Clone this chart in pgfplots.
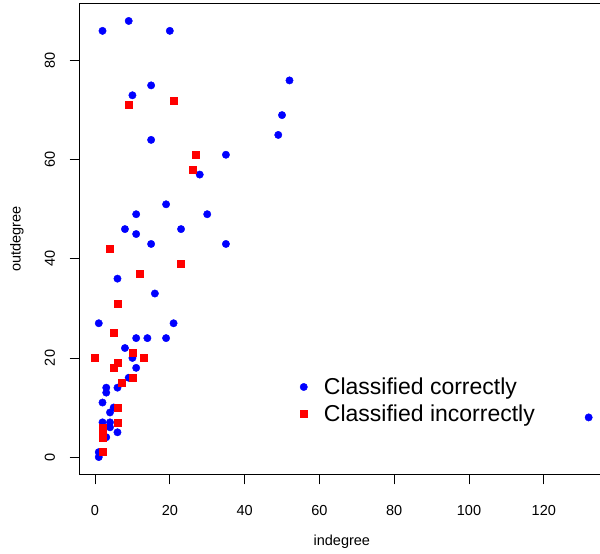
\documentclass[border=0pt]{standalone}
\usepackage{fontspec}
\setmainfont{Liberation Sans}
\usepackage{pgfplots}
\pgfplotsset{compat=1.18}
\definecolor{rblue}{RGB}{0,0,255}
\definecolor{rred}{RGB}{255,0,0}

\begin{document}
\begin{tikzpicture}
\useasboundingbox (-79.7pt,-79.5pt) rectangle (520.3pt,474.5pt);
\begin{axis}[
  at={(0,0)}, anchor=south west,
  scale only axis,
  width=524.3pt, height=471pt,
  xmin=-4.1, xmax=136.1,
  ymin=-3.52, ymax=91.52,
  xtick={0,20,...,120},
  ytick={0,20,...,80},
  axis line style={line width=0.8pt},
  tick align=outside,
  major tick length=10pt,
  tick style={black, line width=0.8pt},
  xtick pos=bottom, ytick pos=left,
  ticklabel style={font=\fontsize{14.5}{17}\selectfont},
  /pgf/number format/assume math mode=true,
  xticklabel style={anchor=north, inner sep=0pt, yshift=-20.5pt},
  yticklabel style={xshift=-14.5pt, rotate=90, anchor=south, inner sep=0pt},
  xlabel={indegree}, ylabel={outdegree},
  every axis x label/.style={at={(rel axis cs:0.5,0)}, yshift=-70.5pt, anchor=base, font=\fontsize{14.5}{17}\selectfont},
  every axis y label/.style={at={(rel axis cs:0,0.5)}, xshift=-59pt, rotate=90, anchor=base, font=\fontsize{14.5}{17}\selectfont},
  legend style={draw=none, fill=none, at={(rel axis cs:0.398,0.214)}, anchor=north west,
    font=\fontsize{23}{26}\selectfont, cells={anchor=west}, row sep=5pt},
  legend image code/.code={%
    \path (0pt,0pt) (30pt,0pt);
    \draw[mark repeat=2,mark phase=2,#1] plot coordinates {(0pt,0pt)(12pt,0pt)(24pt,0pt)};},
]
% classified correctly
\addplot[only marks, mark=*, mark size=3.7pt, draw=rblue, fill=rblue] coordinates {
  (2,86) (9,88) (20,86) (52,76) (15,75) (10,73) (50,69) (49,65) (15,64)
  (35,61) (28,57) (19,51) (11,49) (30,49) (8,46) (23,46) (11,45) (15,43)
  (35,43) (6,36) (16,33) (1,27) (21,27) (11,24) (14,24) (19,24) (8,22)
  (10,20) (11,18) (9,16) (3,14) (3,13) (6,14) (2,11) (5,10) (4,9) (2,7)
  (4,7) (4,6) (3,4) (6,5) (1,1) (1,0) (132,8)
};
\addlegendentry{Classified correctly}
% classified incorrectly
\addplot[only marks, mark=square*, mark size=3.5pt, draw=rred, fill=rred] coordinates {
  (9,71) (21,72) (27,61) (26,58) (4,42) (23,39) (12,37) (6,31) (5,25)
  (0,20) (10,21) (13,20) (6,19) (5,18) (10,16) (7,15) (6,10) (6,7)
  (2,6) (2,5) (2,4) (2,1)
};
\addlegendentry{Classified incorrectly}
\end{axis}
\end{tikzpicture}
\end{document}
